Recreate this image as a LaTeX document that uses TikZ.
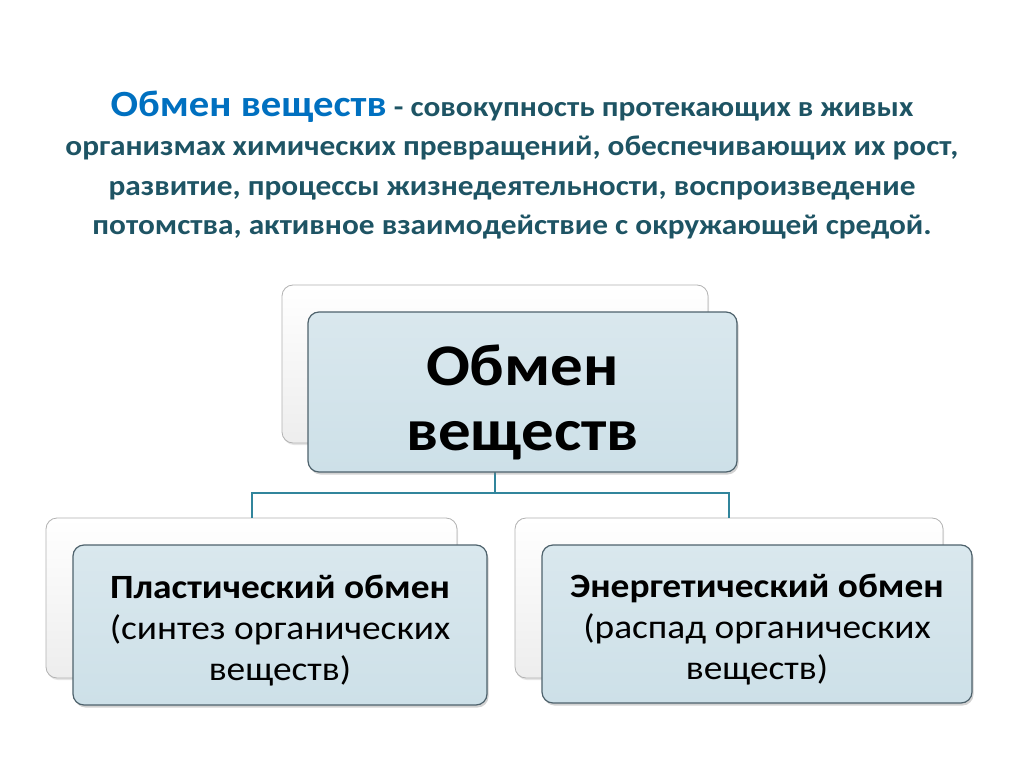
\documentclass[tikz,border=0pt]{standalone}
\usepackage{fontspec}
\setmainfont{Carlito}[FakeStretch=1.1]
\usetikzlibrary{positioning,shadows}

\definecolor{titleblue}{RGB}{0,112,192}
\definecolor{deftext}{RGB}{30,84,100}
\definecolor{boxfill}{RGB}{205,224,232}
\definecolor{boxedge}{RGB}{78,98,108}
\definecolor{linkteal}{RGB}{49,133,156}

\tikzset{
  backbox/.style={draw=gray!60, line width=0.8pt, rounded corners=11pt,
    top color=white, bottom color=gray!14,
    drop shadow={opacity=0.2, shadow xshift=1pt, shadow yshift=-2pt}},
  frontbox/.style={draw=boxedge, line width=1.2pt, rounded corners=11pt,
    top color=boxfill!75, bottom color=boxfill, align=center,
    drop shadow={opacity=0.35, shadow xshift=1.5pt, shadow yshift=-2.5pt}},
  link/.style={draw=linkteal, line width=2pt}
}

\begin{document}
\begin{tikzpicture}[x=1pt, y=-1pt]

  % page
  \fill[white] (0,0) rectangle (1024,767);
  \useasboundingbox (0,0) rectangle (1024,767);

  % definition
  \node[align=center, text=deftext, font=\bfseries\fontsize{28.5}{39.5}\selectfont]
    (defn) at (512,165)
    {{\color{titleblue}\fontsize{37}{39.5}\selectfont Обмен веществ} - совокупность протекающих в живых\\
     организмах химических превращений, обеспечивающих их рост,\\
     развитие, процессы жизнедеятельности, воспроизведение\\
     потомства, активное взаимодействие с окружающей средой.};

  % back boxes
  \node[backbox, minimum width=426pt, minimum height=158pt] (topback) at (495,364) {};
  \node[backbox, minimum width=411pt, minimum height=160pt] (plastback) at (251.5,598) {};
  \node[backbox, minimum width=428pt, minimum height=160pt] (energback) at (729,598) {};

  % connectors
  \coordinate (hub) at (495,493);
  \draw[link] (topback.south) -- (hub);
  \draw[link] (hub) -| (plastback.north);
  \draw[link] (hub) -| (energback.north);

  % front boxes
  \node[frontbox, minimum width=429pt, minimum height=160pt,
    font=\bfseries\fontsize{59}{65}\selectfont] (topfront) at (522.5,392)
    {\rule{0pt}{61pt}Обмен\\веществ};
  \node[frontbox, minimum width=414pt, minimum height=160pt,
    font=\fontsize{34}{41}\selectfont] (plastfront) at (280,625)
    {\rule{0pt}{34pt}\textbf{Пластический обмен}\\(синтез органических\\веществ)};
  \node[frontbox, minimum width=430pt, minimum height=158pt,
    font=\fontsize{34}{41}\selectfont] (energfront) at (757,624)
    {\rule{0pt}{34pt}\textbf{Энергетический обмен}\\(распад органических\\веществ)};

\end{tikzpicture}
\end{document}
